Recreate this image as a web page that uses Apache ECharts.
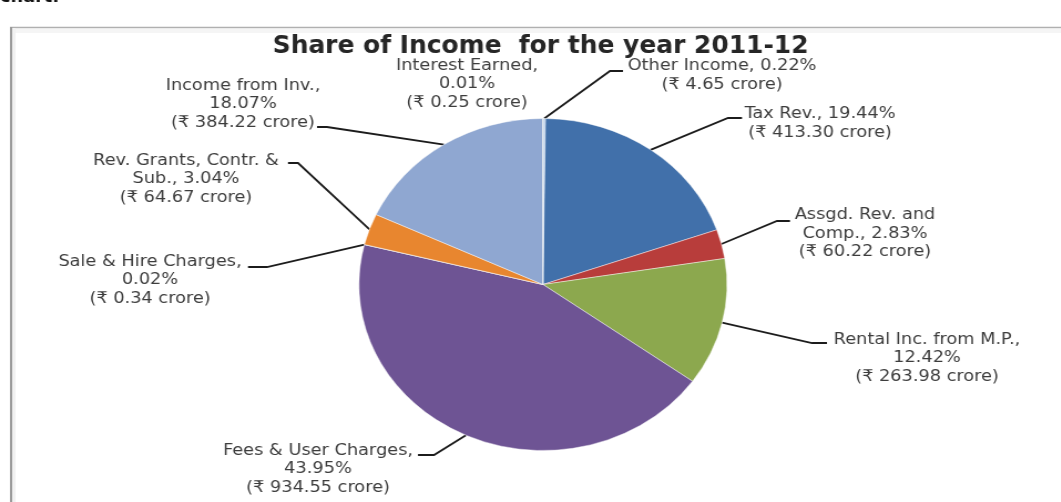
<!DOCTYPE html>
<html>
<head>
<meta charset="utf-8">
<script src="https://cdn.jsdelivr.net/npm/echarts@6/dist/echarts.min.js"></script>
<style>
  html, body { margin: 0; padding: 0; background: #ffffff; overflow: hidden; }
  /* the chart is drawn on a narrower canvas and widened, so the pie comes out as a wide oval */
  #chart { width: 957px; height: 502px; transform: scaleX(1.1085); transform-origin: 0 0; }
</style>
</head>
<body>
<div id="chart"></div>
<script>
// Income heads for 2011-12, in clockwise order from twelve o'clock
const categories = [
  'Other Income',
  'Tax Rev.',
  'Assgd. Rev. and\nComp.',
  'Rental Inc. from M.P.',
  'Fees & User Charges',
  'Sale & Hire Charges',
  'Rev. Grants, Contr. &\nSub.',
  'Income from Inv.',
  'Interest Earned'
];
// amounts in ₹ crore
const croreValues = [4.65, 413.30, 60.22, 263.98, 934.55, 0.34, 64.67, 384.22, 0.25];

const sliceColors = ['#A9C2E2', '#4170AA', '#B83D3B', '#8CA84E', '#6E5494', '#4BACC6', '#E8862F', '#8FA7D1', '#C3D69B'];

const SX = 1.1085;             // horizontal widening of the whole drawing
const W = 1061 / SX;

// where each label block sits (page pixels): centre of text, leader elbow, leader end
const labelSpots = [
  { cx: 722, cy: 75.5,  ex: 610, ey: 71,  tx: 623, ty: 71,  wrap: false, line: true },
  { cx: 820, cy: 123.5, ex: 728, ey: 118, tx: 742, ty: 118, wrap: false, line: true },
  { cx: 865, cy: 233.5, ex: 777, ey: 221, tx: 790, ty: 221, wrap: false, line: true },
  { cx: 927, cy: 358,   ex: 812, ey: 343, tx: 827, ty: 343, wrap: true,  line: true },
  { cx: 318, cy: 469,   ex: 434, ey: 455, tx: 418, ty: 455, wrap: true,  line: true },
  { cx: 150, cy: 280,   ex: 267, ey: 267, tx: 248, ty: 267, wrap: true,  line: true },
  { cx: 186, cy: 179,   ex: 298, ey: 163, tx: 288, ty: 163, wrap: false, line: true },
  { cx: 243, cy: 104,   ex: 327, ey: 127, tx: 317, ty: 127, wrap: true,  line: true },
  { cx: 467, cy: 84,    ex: 0,   ey: 0,   tx: 0,   ty: 0,   wrap: true,  line: false }
];

const chart = echarts.init(document.getElementById('chart'), null, { renderer: 'canvas' });

const pieData = categories.map((name, i) => ({
  name: name,
  value: croreValues[i],
  itemStyle: { color: sliceColors[i] },
  labelLine: { show: labelSpots[i].line }
}));

const option = {
  backgroundColor: '#ffffff',
  animation: false,
  title: {
    text: 'Share of Income  for the year 2011-12',
    left: 535 / SX,
    top: 29,
    textAlign: 'center',
    textStyle: {
      fontFamily: '"DejaVu Sans Condensed", "DejaVu Sans", sans-serif',
      fontWeight: 'bold',
      fontSize: 25,
      color: '#262626'
    }
  },
  graphic: [
    // page frame: top rule and left rule
    { type: 'rect', silent: true, shape: { x: 9, y: 29, width: W, height: 4 }, style: { fill: '#f5f5f5' } },
    { type: 'line', silent: true, shape: { x1: 9, y1: 27.5, x2: W, y2: 27.5 }, style: { stroke: '#b0b0b0', lineWidth: 1.6 } },
    { type: 'rect', silent: true, shape: { x: 11, y: 28, width: 3, height: 480 }, style: { fill: '#f1f1f1' } },
    { type: 'line', silent: true, shape: { x1: 10, y1: 27, x2: 10, y2: 502 }, style: { stroke: '#9a9a9a', lineWidth: 2 } },
    // end of the caption above the frame
    { type: 'text', silent: true, x: 0, y: 6, style: { text: 'chart.', font: 'bold 16px "DejaVu Sans", sans-serif', fill: '#111', textVerticalAlign: 'bottom' } }
  ],
  series: [{
    type: 'pie',
    center: [543 / SX, 284.5],
    radius: 166,
    startAngle: 90,
    clockwise: true,
    avoidLabelOverlap: false,
    minShowLabelAngle: 0,
    percentPrecision: 2,
    emphasis: { disabled: true },
    itemStyle: { borderColor: 'rgba(255,255,255,0.55)', borderWidth: 0.8 },
    label: {
      show: true,
      position: 'outside',
      fontFamily: '"DejaVu Sans", "Noto Sans", sans-serif',
      fontSize: 16,
      lineHeight: 18.5,
      color: '#3d3d3d',
      align: 'center',
      formatter: function (p) {
        const spot = labelSpots[p.dataIndex];
        const pct = p.percent.toFixed(2) + '%';
        const amt = '(₹ ' + p.value.toFixed(2) + ' crore)';
        return p.name + (spot.wrap ? ',\n' : ', ') + pct + '\n' + amt;
      }
    },
    labelLine: {
      show: true,
      length: 10,
      length2: 10,
      smooth: false,
      lineStyle: { color: '#1c1c1c', width: 1.8 }
    },
    labelLayout: function (params) {
      const s = labelSpots[params.dataIndex];
      const out = {
        x: s.cx / SX,
        y: s.cy,
        align: 'center',
        verticalAlign: 'middle'
      };
      if (s.line && params.labelLinePoints && params.labelLinePoints[0]) {
        out.labelLinePoints = [
          params.labelLinePoints[0],
          [s.ex / SX, s.ey],
          [s.tx / SX, s.ty]
        ];
      }
      return out;
    },
    data: pieData
  }]
};

chart.setOption(option);
</script>
</body>
</html>
